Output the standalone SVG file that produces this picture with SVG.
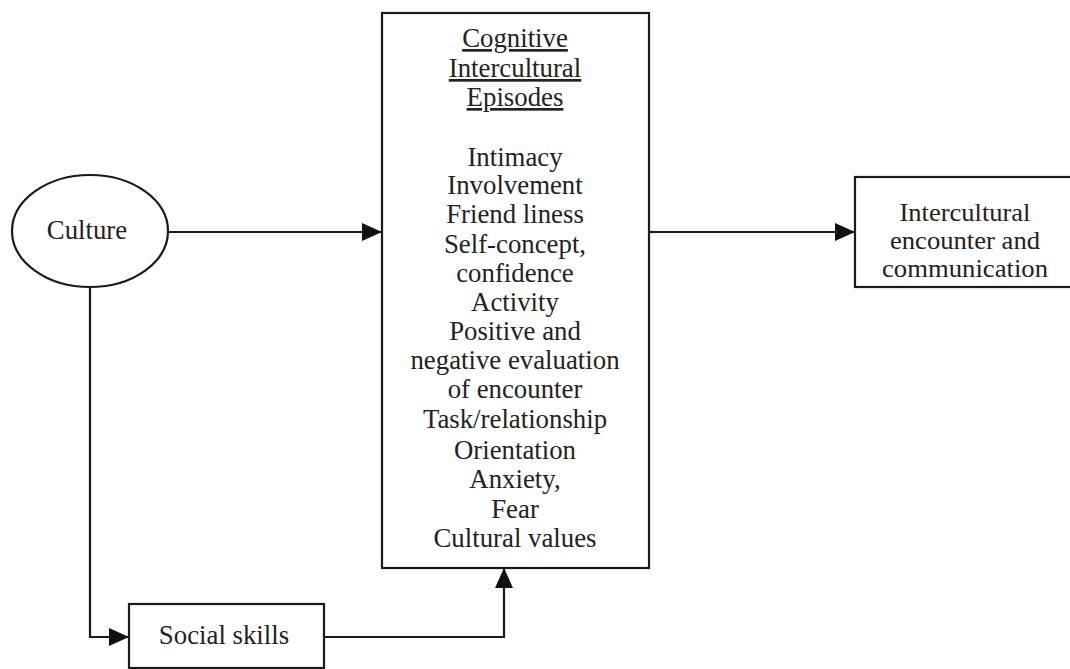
<svg xmlns="http://www.w3.org/2000/svg" width="1070" height="669" viewBox="0 0 1070 669">
<defs>
<style>
.shape{fill:#fff;stroke:#1a1a1a;stroke-width:2.2}
.conn{fill:none;stroke:#1a1a1a;stroke-width:2.2}
text{font-family:"Liberation Serif","Times New Roman",serif;font-size:26.8px;fill:#222;text-anchor:middle}
.ul{text-decoration:underline}
.sm{font-size:25px}
</style>
<marker id="arr" viewBox="0 0 20 18" refX="20" refY="9" markerWidth="20" markerHeight="18" markerUnits="userSpaceOnUse" orient="auto">
<path d="M0,0 L20,9 L0,18 Z" fill="#111"/>
</marker>
</defs>
<rect width="1070" height="669" fill="#fff"/>
<g id="connectors">
<line class="conn" x1="168" y1="232" x2="382" y2="232" marker-end="url(#arr)"/>
<line class="conn" x1="649" y1="232" x2="855" y2="232" marker-end="url(#arr)"/>
<polyline class="conn" points="90,287 90,637 129,637" marker-end="url(#arr)"/>
<polyline class="conn" points="324,637 504,637 504,568" marker-end="url(#arr)"/>
</g>
<g id="culture">
<ellipse class="shape" cx="90" cy="231" rx="78" ry="56"/>
<text x="87" y="239">Culture</text>
</g>
<g id="episodes">
<rect class="shape" x="382" y="13" width="267" height="555"/>
<text x="515" y="47" class="ul">Cognitive</text>
<text x="515" y="77" class="ul">Intercultural</text>
<text x="515" y="106" class="ul">Episodes</text>
<text x="515" y="166">Intimacy</text>
<text x="515" y="194">Involvement</text>
<text x="515" y="223">Friend liness</text>
<text x="515" y="253">Self-concept,</text>
<text x="515" y="282">confidence</text>
<text x="515" y="311">Activity</text>
<text x="515" y="340">Positive and</text>
<text x="515" y="369">negative evaluation</text>
<text x="515" y="398">of encounter</text>
<text x="515" y="428">Task/relationship</text>
<text x="515" y="459">Orientation</text>
<text x="515" y="488">Anxiety,</text>
<text x="515" y="518">Fear</text>
<text x="515" y="547">Cultural values</text>
</g>
<g id="encounter">
<rect class="shape" x="855" y="177" width="220" height="110"/>
<text x="965" y="221" class="sm" textLength="131" lengthAdjust="spacingAndGlyphs">Intercultural</text>
<text x="965" y="249" class="sm" textLength="150" lengthAdjust="spacingAndGlyphs">encounter and</text>
<text x="965" y="277" class="sm" textLength="166" lengthAdjust="spacingAndGlyphs">communication</text>
</g>
<g id="social-skills">
<rect class="shape" x="129" y="604" width="195" height="64"/>
<text x="224" y="644">Social skills</text>
</g>
</svg>
